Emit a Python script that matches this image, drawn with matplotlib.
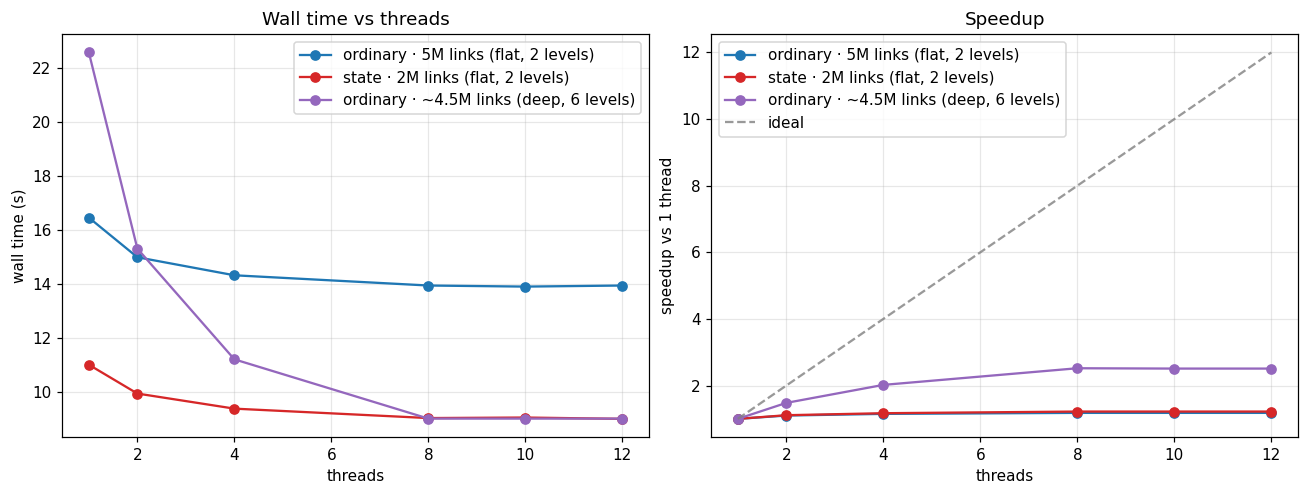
import matplotlib
matplotlib.use("Agg")
import matplotlib.pyplot as plt

# thread counts
threads = [1, 2, 4, 8, 10, 12]

# wall times (s)
ordinary_flat_time = [16.46, 14.99, 14.32, 13.94, 13.90, 13.94]
state_flat_time = [11.00, 9.93, 9.37, 9.02, 9.04, 8.99]
ordinary_deep_time = [22.59, 15.31, 11.20, 9.00, 9.00, 9.00]

# speedup vs 1 thread
ordinary_flat_speedup = [1.00, 1.10, 1.15, 1.18, 1.18, 1.18]
state_flat_speedup = [1.00, 1.11, 1.17, 1.22, 1.22, 1.22]
ordinary_deep_speedup = [1.00, 1.48, 2.02, 2.52, 2.51, 2.51]
ideal_speedup = [1, 2, 4, 8, 10, 12]

labels = [
    "ordinary · 5M links (flat, 2 levels)",
    "state · 2M links (flat, 2 levels)",
    "ordinary · ~4.5M links (deep, 6 levels)",
]
colors = ["#1f77b4", "#d62728", "#9467bd"]

fig, (ax1, ax2) = plt.subplots(1, 2, figsize=(11.9, 4.5), dpi=110)

for ys, lab, c in zip([ordinary_flat_time, state_flat_time, ordinary_deep_time], labels, colors):
    ax1.plot(threads, ys, marker="o", color=c, label=lab)
ax1.set_title("Wall time vs threads")
ax1.set_xlabel("threads")
ax1.set_ylabel("wall time (s)")
ax1.grid(True, alpha=0.3)
ax1.legend(loc="upper right")

for ys, lab, c in zip([ordinary_flat_speedup, state_flat_speedup, ordinary_deep_speedup], labels, colors):
    ax2.plot(threads, ys, marker="o", color=c, label=lab)
ax2.plot(threads, ideal_speedup, linestyle="--", color="gray", alpha=0.8, label="ideal")
ax2.set_title("Speedup")
ax2.set_xlabel("threads")
ax2.set_ylabel("speedup vs 1 thread")
ax2.grid(True, alpha=0.3)
ax2.legend(loc="upper left")

plt.tight_layout(pad=0.72)
plt.savefig("out.png")
